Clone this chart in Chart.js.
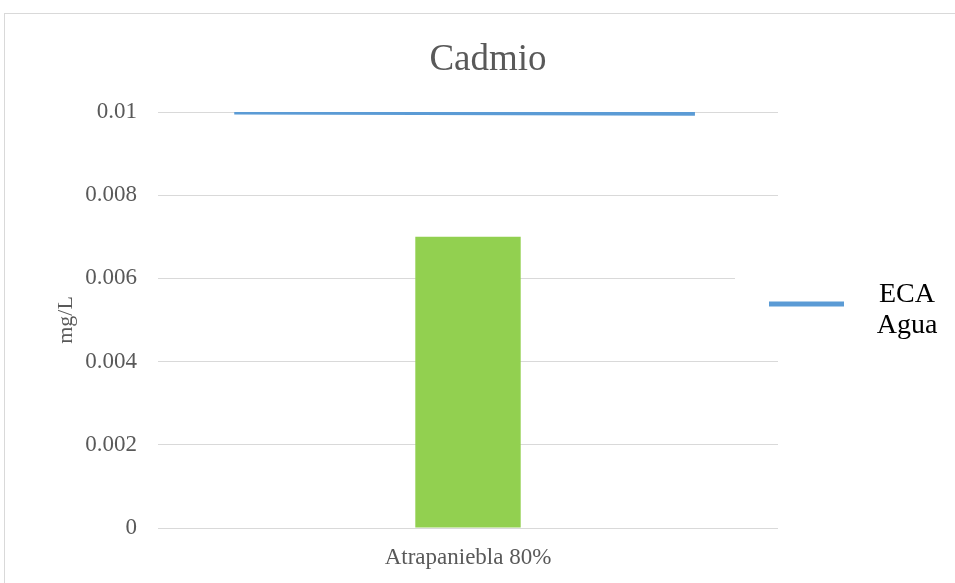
<!DOCTYPE html>
<html>
<head>
<meta charset="utf-8">
<script src="https://cdn.jsdelivr.net/npm/chart.js@4/dist/chart.umd.min.js"></script>
<style>
  html, body { margin: 0; padding: 0; background: #fff; }
  #wrap { width: 955px; height: 583px; }
</style>
</head>
<body>
<div id="wrap"><canvas id="c" width="955" height="583"></canvas></div>
<script>
// ---- data ----
const categories = ["Atrapaniebla 80%"];
const barValues = [0.007];
const ecaX = [0.123, 0.866];
const ecaY = [0.01, 0.00997];
const yTicks = [0, 0.002, 0.004, 0.006, 0.008, 0.01];
const titleText = "Cadmio";
const yAxisTitle = "mg/L";
const ecaLabel = "ECA Agua";

const SERIF = "'Liberation Serif', 'Times New Roman', serif";
const GREY = "#595959";

const frameAndLegend = {
  id: "frameAndLegend",
  beforeDraw(chart) {
    const ctx = chart.ctx;
    ctx.save();
    ctx.fillStyle = "#fff";
    ctx.fillRect(0, 0, chart.width, chart.height);
    ctx.strokeStyle = "#D9D9D9";
    ctx.lineWidth = 1;
    ctx.strokeRect(4.5, 13.5, 2000, 2000);
    ctx.restore();
  },
  afterDraw(chart) {
    const ctx = chart.ctx;
    const ds = chart.data.datasets[1];
    ctx.save();
    // chart title
    ctx.fillStyle = GREY;
    ctx.font = "37px " + SERIF;
    ctx.textAlign = "center";
    ctx.textBaseline = "alphabetic";
    ctx.fillText(titleText, 488, 70);
    // legend box background
    ctx.fillStyle = "#fff";
    ctx.fillRect(735, 272, 220, 78);
    // legend line
    ctx.strokeStyle = ds.borderColor;
    ctx.lineWidth = 5;
    ctx.beginPath();
    ctx.moveTo(769, 304);
    ctx.lineTo(844, 304);
    ctx.stroke();
    // legend text (wrapped)
    ctx.fillStyle = "#000";
    ctx.font = "28px " + SERIF;
    const words = ds.label.split(" ");
    ctx.fillText(words[0], 907, 302);
    ctx.fillText(words.slice(1).join(" "), 907, 333);
    ctx.restore();
  }
};

new Chart(document.getElementById("c"), {
  data: {
    labels: categories,
    datasets: [
      {
        type: "bar",
        label: "Atrapaniebla",
        data: barValues,
        backgroundColor: "#92D050",
        borderWidth: 0,
        grouped: false,
        categoryPercentage: 1,
        barPercentage: 0.17,
        xAxisID: "x",
        yAxisID: "y",
        order: 2
      },
      {
        type: "line",
        label: ecaLabel,
        data: ecaX.map((x, i) => ({ x: x, y: ecaY[i] })),
        borderColor: "#5B9BD5",
        borderWidth: 5,
        pointRadius: 0,
        fill: false,
        tension: 0,
        xAxisID: "x2",
        yAxisID: "y",
        order: 1
      }
    ]
  },
  options: {
    responsive: false,
    animation: false,
    devicePixelRatio: 1,
    layout: { padding: { top: 112, left: 5, right: 177, bottom: 0 } },
    plugins: {
      legend: { display: false },
      tooltip: { enabled: false },
      title: { display: false }
    },
    scales: {
      x: {
        type: "category",
        offset: true,
        grid: { display: false, drawTicks: false, offset: true },
        border: { display: false },
        ticks: {
          color: GREY,
          font: { family: SERIF, size: 23 },
          padding: 16,
          maxRotation: 0
        },
        afterFit(scale) { scale.height = 55; }
      },
      x2: {
        type: "linear",
        display: false,
        min: 0,
        max: 1
      },
      y: {
        type: "linear",
        min: 0,
        max: 0.01,
        afterBuildTicks(scale) { scale.ticks = yTicks.map(v => ({ value: v })); },
        grid: { color: "#D9D9D9", lineWidth: 1, drawTicks: false },
        border: { display: false },
        ticks: {
          color: GREY,
          font: { family: SERIF, size: 23 },
          padding: 21,
          callback: v => String(v)
        },
        title: {
          display: true,
          text: yAxisTitle,
          color: GREY,
          font: { family: SERIF, size: 22 },
          padding: { top: 48, bottom: 0 }
        },
        afterFit(scale) { scale.width = 153; }
      }
    }
  },
  plugins: [frameAndLegend]
});
</script>
</body>
</html>
